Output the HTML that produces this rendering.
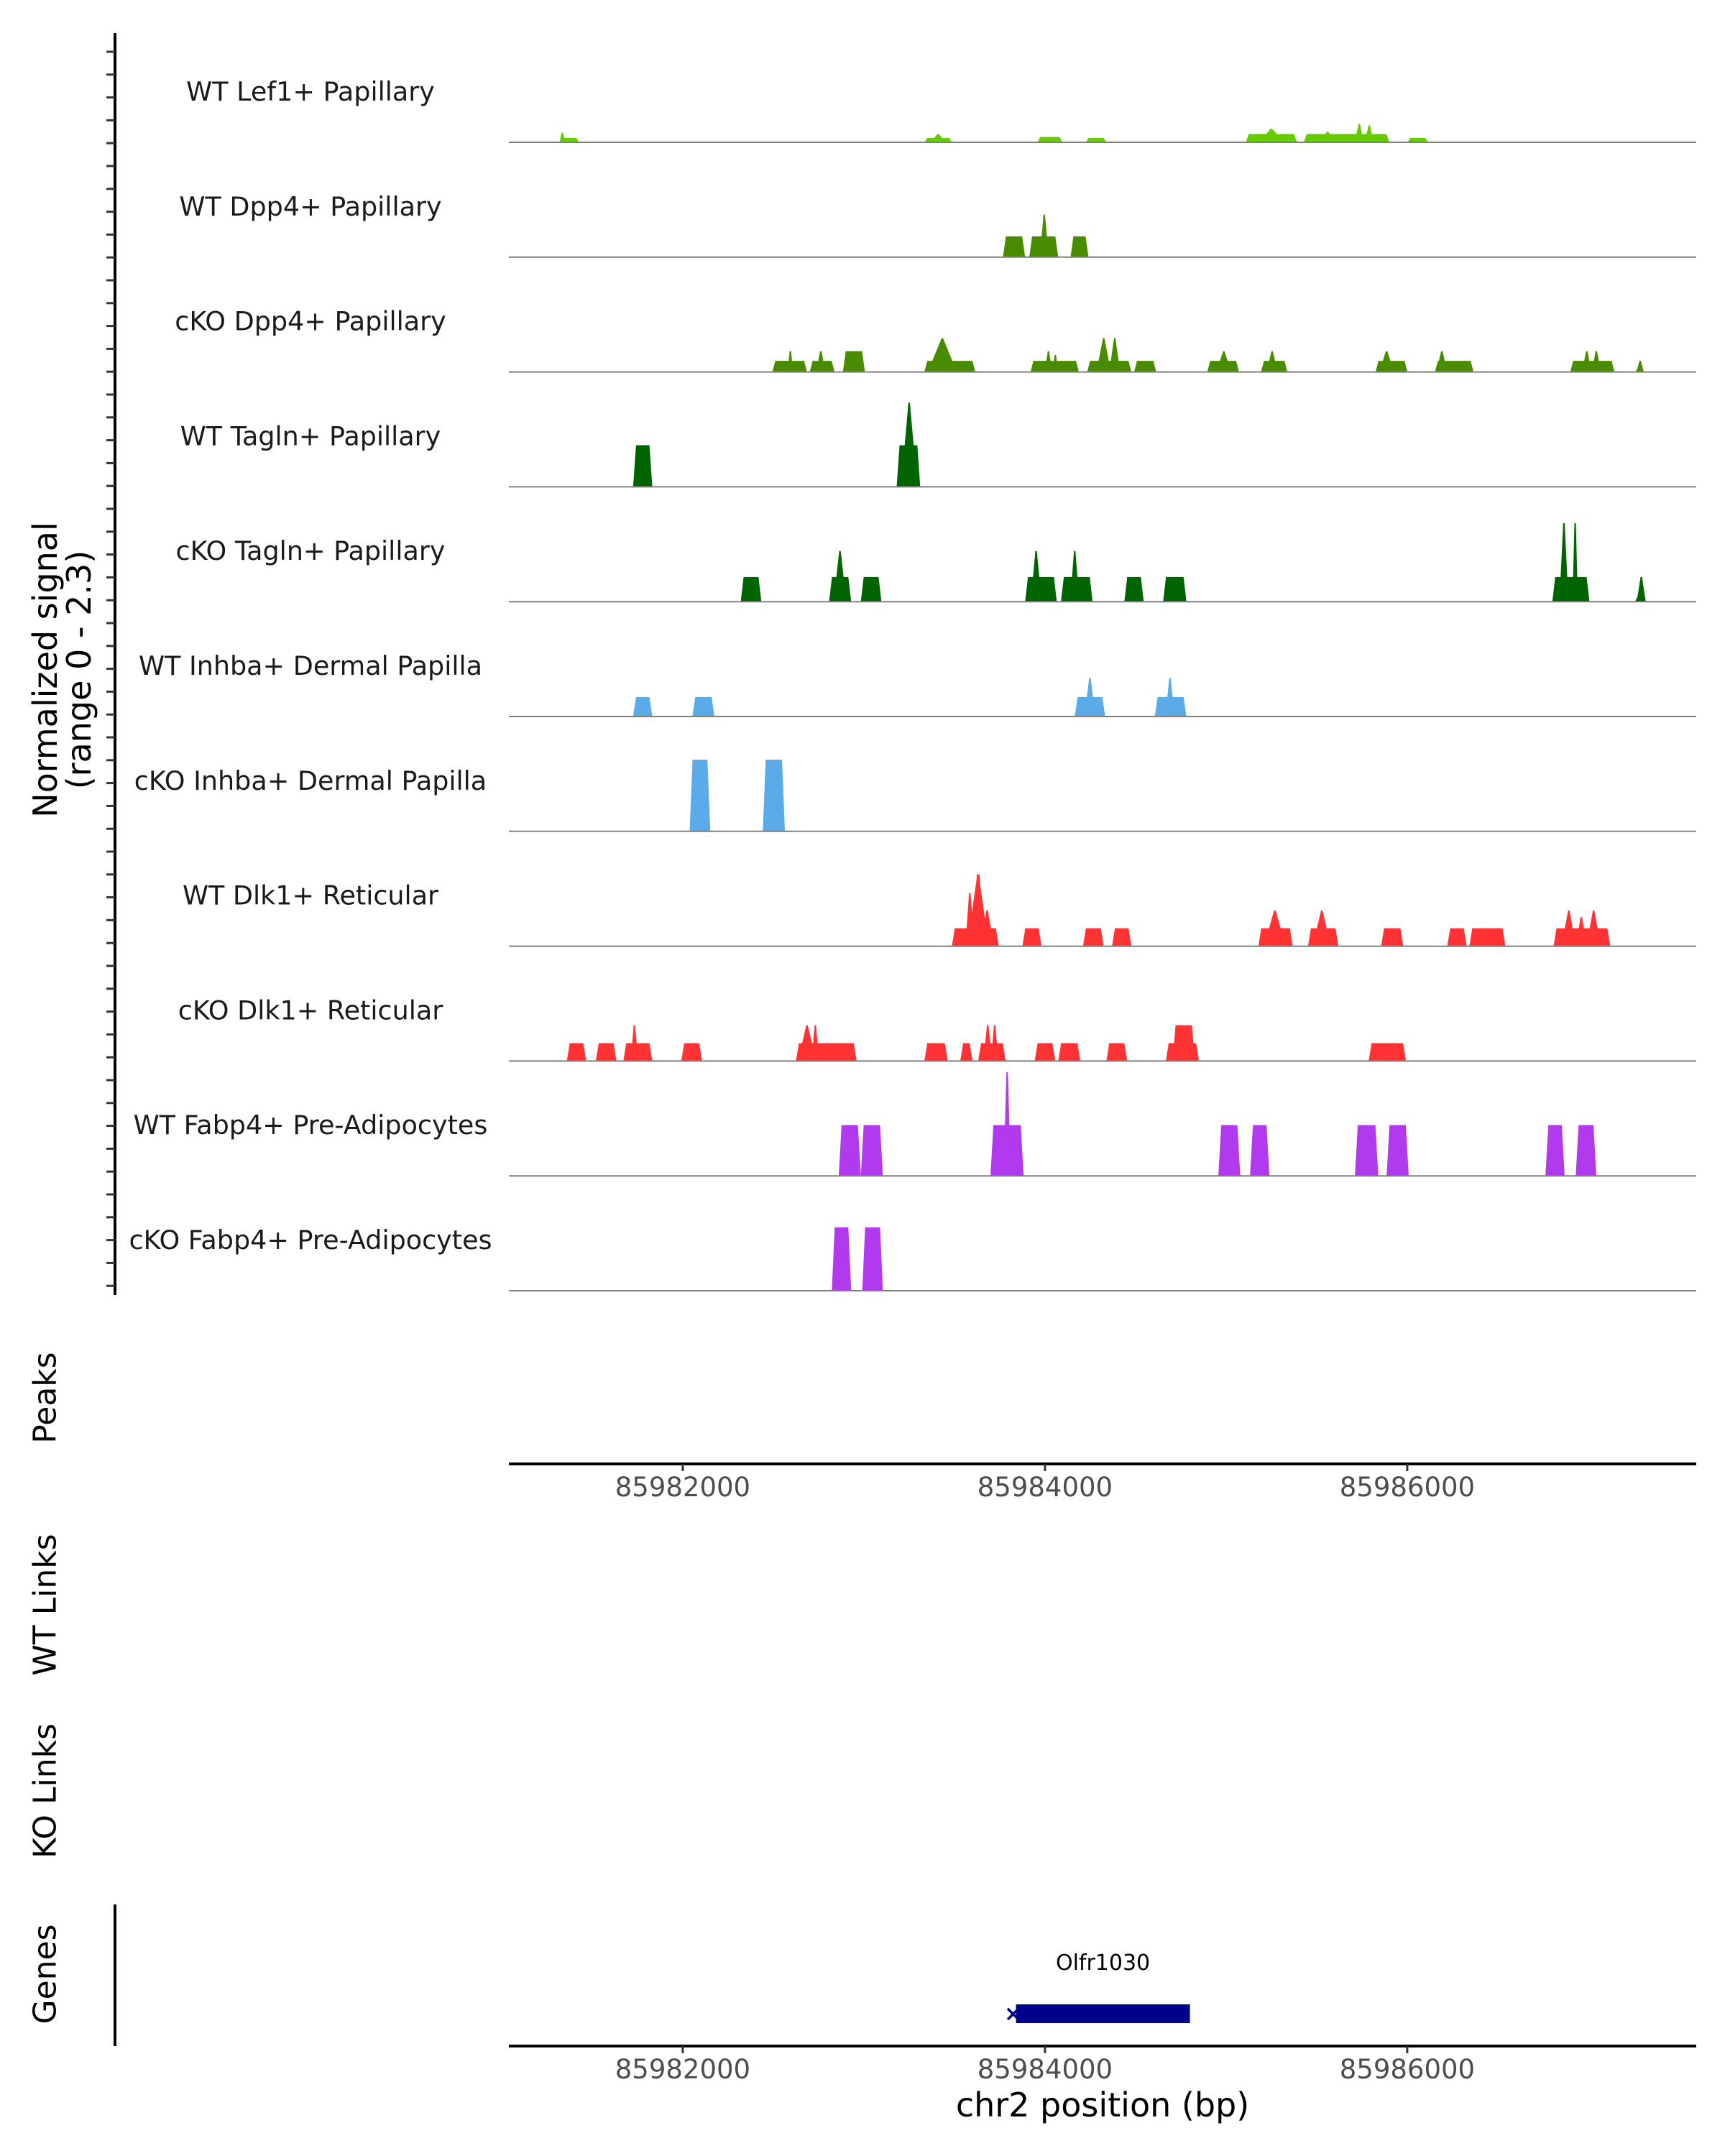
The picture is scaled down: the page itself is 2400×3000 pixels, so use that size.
<!DOCTYPE html>
<html><head><meta charset="utf-8"><style>
html,body{margin:0;padding:0;background:#fff;}
svg{display:block;font-family:"DejaVu Sans","Liberation Sans",sans-serif;}
</style></head><body>
<svg id="chart" width="2400" height="3000" viewBox="0 0 2400 3000" xmlns="http://www.w3.org/2000/svg">
<g id="tracks"></g>
<g id="axes"></g>
</svg>
<script>
const trackNames = ["WT Lef1+ Papillary","WT Dpp4+ Papillary","cKO Dpp4+ Papillary","WT Tagln+ Papillary","cKO Tagln+ Papillary","WT Inhba+ Dermal Papilla","cKO Inhba+ Dermal Papilla","WT Dlk1+ Reticular","cKO Dlk1+ Reticular","WT Fabp4+ Pre-Adipocytes","cKO Fabp4+ Pre-Adipocytes"];
const trackColors = ["#66cc00","#4a8c00","#4a8c00","#006400","#006400","#5aabe8","#5aabe8","#ff3333","#ff3333","#b23aee","#b23aee"];
// peaks: [start bp, end bp, value]
const peaks0 = [[85981329,85981428,0.09],[85983334,85983486,0.09],[85983958,85984096,0.11],[85984225,85984339,0.09],[85985109,85985391,0.17],[85985429,85985901,0.17],[85986001,85986115,0.09]];
const spikes0 = [[85981335,0.2,15],[85983410,0.17,40],[85985250,0.28,70],[85985560,0.22,40],[85985735,0.38,25],[85985790,0.35,25]];
const peaks1 = [[85983768,85983890,0.43],[85983913,85984073,0.43],[85984141,85984240,0.43]];
const spikes1 = [[85983996,0.88,25]];
const peaks2 = [[85982495,85982686,0.23],[85982701,85982838,0.23],[85982884,85983006,0.43],[85983334,85983615,0.23],[85983920,85984187,0.23],[85984233,85984477,0.23],[85984492,85984614,0.23],[85984896,85985071,0.23],[85985193,85985338,0.23],[85985825,85986001,0.23],[85986153,85986366,0.23],[85986900,85987144,0.23],[85987258,85987288,0.05]];
const spikes2 = [[85982594,0.43,15],[85982762,0.43,25],[85983433,0.7,80],[85984019,0.43,20],[85984057,0.35,15],[85984324,0.7,40],[85984385,0.7,30],[85984987,0.43,40],[85985254,0.43,30],[85985886,0.43,40],[85986191,0.43,30],[85986991,0.43,25],[85987044,0.43,25],[85987286,0.23,20]];
const peaks3 = [[85981726,85981832,0.86],[85983181,85983311,0.86]];
const spikes3 = [[85983250,1.74,45]];
const peaks4 = [[85982320,85982434,0.51],[85982808,85982930,0.51],[85982983,85983097,0.51],[85983890,85984065,0.51],[85984088,85984263,0.51],[85984438,85984545,0.51],[85984652,85984781,0.51],[85986801,85987006,0.51],[85987258,85987296,0.1]];
const spikes4 = [[85982868,1.05,35],[85983951,1.05,30],[85984164,1.05,25],[85986865,1.62,25],[85986927,1.62,15],[85987292,0.51,25]];
const peaks5 = [[85981726,85981832,0.4],[85982053,85982175,0.4],[85984164,85984332,0.4],[85984606,85984781,0.4]];
const spikes5 = [[85984248,0.8,30],[85984690,0.8,25]];
const peaks6 = [[85982038,85982152,1.48],[85982442,85982564,1.48]];
const spikes6 = [];
const peaks7 = [[85983486,85983745,0.37],[85983875,85983981,0.37],[85984210,85984324,0.37],[85984370,85984477,0.37],[85985178,85985368,0.37],[85985452,85985620,0.37],[85985856,85985978,0.37],[85986221,85986328,0.37],[85986343,85986542,0.37],[85986808,85987121,0.37],[85983608,85983654,1.48]];
const spikes7 = [[85983585,1.1,25],[85983630,1.48,60],[85983680,0.74,40],[85985269,0.74,60],[85985528,0.74,50],[85986892,0.74,40],[85986961,0.6,30],[85987029,0.74,40]];
const peaks8 = [[85981360,85981467,0.37],[85981520,85981634,0.37],[85981672,85981832,0.37],[85981992,85982107,0.37],[85982625,85982960,0.37],[85983334,85983463,0.37],[85983532,85983600,0.37],[85983631,85983783,0.37],[85983943,85984057,0.37],[85984073,85984195,0.37],[85984339,85984454,0.37],[85984667,85984850,0.37],[85984705,85984827,0.74],[85985787,85985993,0.37]];
const spikes8 = [[85981733,0.74,20],[85982686,0.74,50],[85982732,0.74,20],[85983684,0.74,25],[85983722,0.74,20]];
const peaks9 = [[85982861,85982983,1.05],[85982983,85983105,1.05],[85983699,85983882,1.05],[85984957,85985078,1.05],[85985132,85985239,1.05],[85985711,85985840,1.05],[85985886,85986008,1.05],[85986763,85986869,1.05],[85986930,85987044,1.05]];
const spikes9 = [[85983791,2.14,20]];
const peaks10 = [[85982823,85982930,1.31],[85982991,85983105,1.31]];
const spikes10 = [];
const allPeaks = [peaks0,peaks1,peaks2,peaks3,peaks4,peaks5,peaks6,peaks7,peaks8,peaks9,peaks10];
const allSpikes = [spikes0,spikes1,spikes2,spikes3,spikes4,spikes5,spikes6,spikes7,spikes8,spikes9,spikes10];
const xTicks = [85982000,85984000,85986000];
const geneName = "Olfr1030";
const geneStart = 85983840;
const geneEnd = 85984800;

const NS="http://www.w3.org/2000/svg";
const X0=708, X1=2360, BP0=85981040, BPPX=0.252;
const xs = bp => X0 + (bp-BP0)*BPPX;
const BASE0=198, TRK=159.8, YMAX=2.3, HPX=155;
const ys = (i,v) => BASE0 + i*TRK - v/YMAX*HPX;
function mk(tag, attrs, parent, text){const e=document.createElementNS(NS,tag);for(const k in attrs)e.setAttribute(k,attrs[k]);if(text!==undefined)e.textContent=text;parent.appendChild(e);return e;}
const gT=document.getElementById('tracks'), gA=document.getElementById('axes');

trackNames.forEach((name,i)=>{
  const g=mk('g',{},gT);
  
  
  const base=BASE0+i*TRK;
  allPeaks[i].forEach(p=>{
    const a=xs(p[0]), b=xs(p[1]), t=ys(i,p[2]), s=Math.min(4,(b-a)/3);
    const pg=mk('polygon',{points:`${a},${base} ${a+s},${t} ${b-s},${t} ${b},${base}`,fill:trackColors[i]},g);
    
    
  });
  allSpikes[i].forEach(p=>{
    const c=xs(p[0]), w=p[2]*BPPX, t=ys(i,p[1]);
    const pg=mk('polygon',{points:`${c-w},${base} ${c-1},${t} ${c+1},${t} ${c+w},${base}`,fill:trackColors[i]},g);
    
    
  });
  const bl=mk('line',{x1:X0,x2:X1,y1:base,y2:base,stroke:'#808080','stroke-width':2},g);
  
  
  const lb=mk('text',{x:432,y:base-58,'font-size':36.5,fill:'#1a1a1a','text-anchor':'middle'},g,name);
  
  
});

// left y axis
const ya=mk('line',{x1:160,x2:160,y1:46,y2:1802,stroke:'#000','stroke-width':4},gA);


for(let k=0;k<=54;k++){const y=72+k*31.8;const t=mk('line',{x1:148,x2:160,y1:y,y2:y,stroke:'#333','stroke-width':3},gA);

}
function vlabel(txt,cx,cy,name,size){const t=mk('text',{x:cx,y:cy,'font-size':size||44,fill:'#000','text-anchor':'middle','dominant-baseline':'central',transform:`rotate(-90 ${cx} ${cy})`},gA,txt);return t;}
vlabel('Normalized signal',63,932,'y-axis-title',46);
vlabel('(range 0 - 2.3)',110,932,'y-axis-subtitle',46);
vlabel('Peaks',63,1945,'peaks-track-label');
vlabel('WT Links',63,2233,'wt-links-track-label');
vlabel('KO Links',63,2492,'ko-links-track-label');
vlabel('Genes',63,2747,'genes-track-label');

function xaxis(y,name){
  const l=mk('line',{x1:X0,x2:X1,y1:y,y2:y,stroke:'#000','stroke-width':4},gA);
  
  
  xTicks.forEach(v=>{
    const tk=mk('line',{x1:xs(v),x2:xs(v),y1:y,y2:y+10,stroke:'#333','stroke-width':3},gA);
    
    
    const tl=mk('text',{x:xs(v),y:y+45,'font-size':37,fill:'#4d4d4d','text-anchor':'middle'},gA,String(v));
    
    
  });
}
xaxis(2037,'peaks-x-axis');
xaxis(2847,'genes-x-axis');
const ga=mk('line',{x1:160,x2:160,y1:2650,y2:2847,stroke:'#000','stroke-width':4},gA);


const xt=mk('text',{x:1534,y:2945,'font-size':46,fill:'#000','text-anchor':'middle'},gA,'chr2 position (bp)');


// gene
const gb=mk('rect',{x:xs(geneStart),y:2789,width:xs(geneEnd)-xs(geneStart),height:26,fill:'#00008b'},gA);


const gx=mk('text',{x:xs(geneStart)-4,y:2812,'font-size':30,'font-weight':'bold',fill:'#00008b','text-anchor':'middle'},gA,'×');


const gl=mk('text',{x:(xs(geneStart)+xs(geneEnd))/2,y:2741,'font-size':30,fill:'#000','text-anchor':'middle'},gA,geneName);


</script>
</body></html>
